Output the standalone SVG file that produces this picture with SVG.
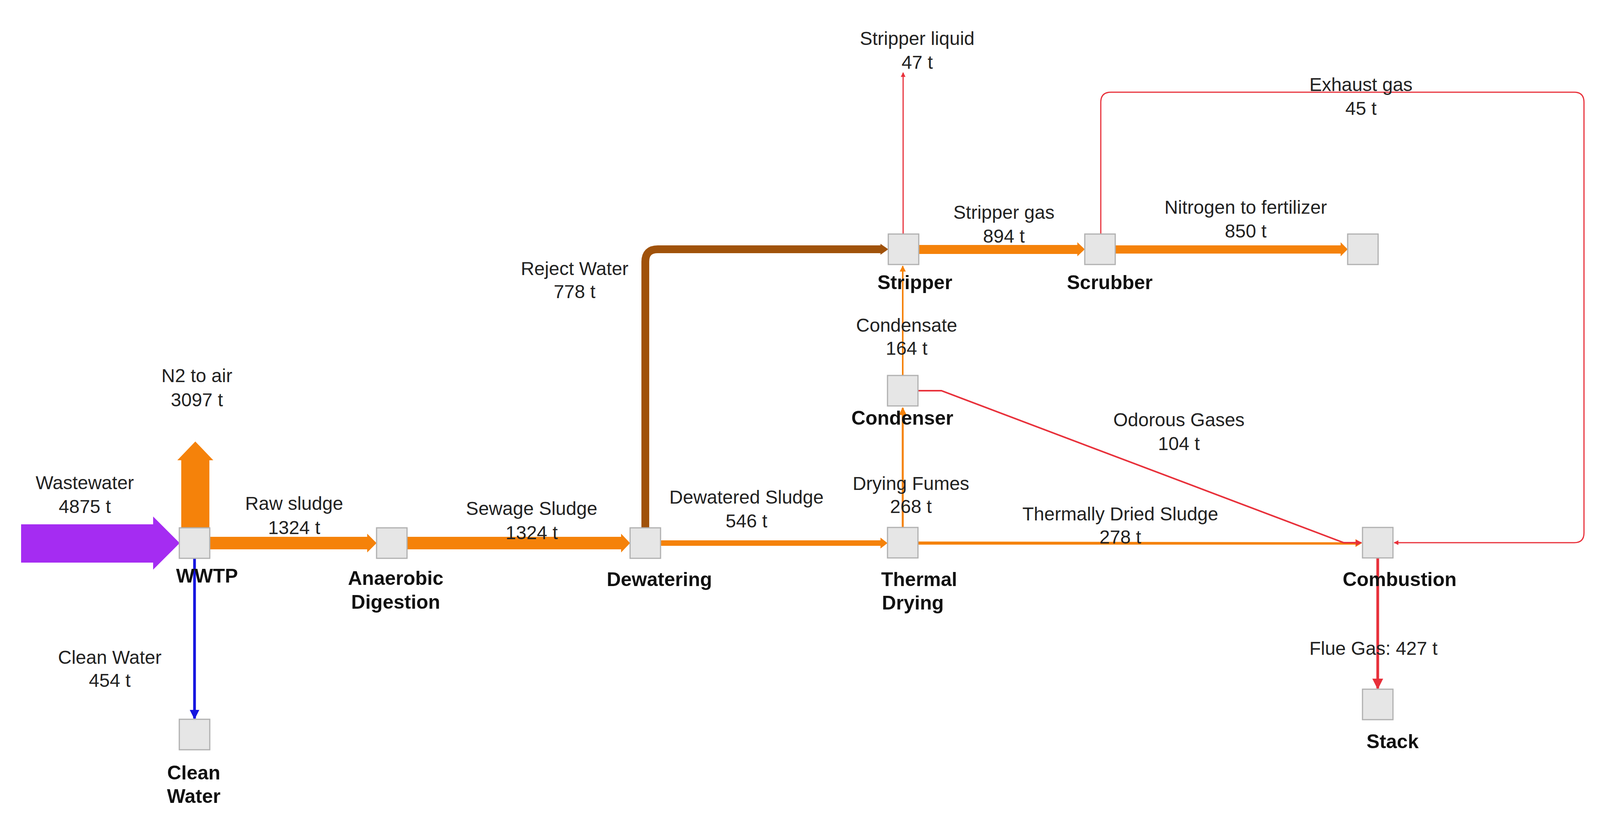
<svg xmlns="http://www.w3.org/2000/svg" width="4159" height="2086" viewBox="0 0 4159 2086">
<defs>
<style>
.n{fill:#e6e6e6;stroke:#b0b0b0;stroke-width:3}
.t{font-family:"Liberation Sans",Arial,sans-serif;font-size:48px;fill:#222;text-anchor:middle}
.b{font-weight:bold;font-size:50px;fill:#111}
.or{fill:#f5820a}
</style>
<marker id="mr" viewBox="0 0 10 10" refX="9" refY="5" markerWidth="4" markerHeight="4" orient="auto"><path d="M0,0L10,5L0,10z" fill="#e8303a"/></marker>
<marker id="mo" viewBox="0 0 10 10" refX="9" refY="5" markerWidth="4" markerHeight="4" orient="auto"><path d="M0,0L10,5L0,10z" fill="#f5820a"/></marker>
<marker id="mb" viewBox="0 0 10 10" refX="9" refY="5" markerWidth="3.5" markerHeight="3.5" orient="auto"><path d="M0,0L10,5L0,10z" fill="#1515e0"/></marker>
</defs>
<rect width="4159" height="2086" fill="#fff"/>
<g id="connectors">
<polygon points="54,1342 392,1342 392,1322 460,1390 392,1458 392,1440 54,1440" fill="#a52cf2"/>
<polygon points="464,1351 464,1178 454,1178 500,1130 546,1178 536,1178 536,1351" class="or"/>
<polygon points="537,1374 940,1374 940,1366 964,1390 940,1414 940,1406 537,1406" class="or"/>
<polygon points="1042,1374 1590,1374 1590,1366 1613,1390 1590,1414 1590,1406 1042,1406" class="or"/>
<polygon points="1690,1383 2254,1383 2254,1376 2272,1390 2254,1404 2254,1397 1690,1397" class="or"/>
<polygon points="2350,1386 3470,1388 3470,1380 3487,1390 3470,1400 3470,1394 2350,1394" class="or"/>
<path d="M1652,1351 V670 Q1652,638 1684,638 H2256" fill="none" stroke="#a0520a" stroke-width="20"/>
<polygon points="2254,624 2274,638 2254,652" fill="#a0520a"/>
<polygon points="2350,627 2758,627 2758,620 2777,638 2758,656 2758,650 2350,650" class="or"/>
<polygon points="2855,628 3432,628 3432,620 3450,638 3432,656 3432,649 2855,649" class="or"/>
<line x1="2311" y1="1349" x2="2311" y2="1044" stroke="#f5820a" stroke-width="5" marker-end="url(#mo)"/>
<line x1="2311" y1="960" x2="2311" y2="681" stroke="#f5820a" stroke-width="4" marker-end="url(#mo)"/>
<line x1="2312" y1="598" x2="2312" y2="186" stroke="#e8303a" stroke-width="3" marker-end="url(#mr)"/>
<path d="M2350,1000 H2410 L3440,1389 H3485" fill="none" stroke="#e8303a" stroke-width="4" marker-end="url(#mr)"/>
<path d="M2818,598 V262 Q2818,236 2844,236 H4030 Q4055,236 4055,262 V1364 Q4055,1389 4030,1389 H3569" fill="none" stroke="#e8303a" stroke-width="3" marker-end="url(#mr)"/>
<line x1="3527" y1="1428" x2="3527" y2="1762" stroke="#e8303a" stroke-width="7" marker-end="url(#mr)"/>
<line x1="498" y1="1429" x2="498" y2="1839" stroke="#1515e0" stroke-width="7" marker-end="url(#mb)"/>
</g>
<g id="nodes">
<g id="wwtp"><rect class="n" x="459" y="1351" width="78" height="78"/><text class="t b" x="530" y="1491">WWTP</text></g>
<g id="anaerobic"><rect class="n" x="964" y="1351" width="78" height="78"/><text class="t b" x="1013" y="1497">Anaerobic</text><text class="t b" x="1013" y="1558">Digestion</text></g>
<g id="dewatering"><rect class="n" x="1613" y="1351" width="78" height="78"/><text class="t b" x="1688" y="1500">Dewatering</text></g>
<g id="thermal"><rect class="n" x="2272" y="1350" width="78" height="78"/><text class="t b" x="2353" y="1500">Thermal</text><text class="t b" x="2337" y="1560">Drying</text></g>
<g id="combustion"><rect class="n" x="3488" y="1350" width="78" height="78"/><text class="t b" x="3583" y="1500">Combustion</text></g>
<g id="condenser"><rect class="n" x="2272" y="961" width="78" height="78"/><text class="t b" x="2310" y="1087">Condenser</text></g>
<g id="stripper"><rect class="n" x="2274" y="599" width="78" height="78"/><text class="t b" x="2342" y="740">Stripper</text></g>
<g id="scrubber"><rect class="n" x="2777" y="599" width="78" height="78"/><text class="t b" x="2841" y="740">Scrubber</text></g>
<g id="fertilizer"><rect class="n" x="3450" y="599" width="78" height="78"/></g>
<g id="cleanwater"><rect class="n" x="459" y="1841" width="78" height="78"/><text class="t b" x="496" y="1995">Clean</text><text class="t b" x="496" y="2055">Water</text></g>
<g id="stack"><rect class="n" x="3488" y="1764" width="78" height="78"/><text class="t b" x="3565" y="1915">Stack</text></g>
</g>
<g id="labels">
<text class="t" x="504" y="978">N2 to air</text><text class="t" x="504" y="1040">3097 t</text>
<text class="t" x="217" y="1252">Wastewater</text><text class="t" x="217" y="1313">4875 t</text>
<text class="t" x="753" y="1305">Raw sludge</text><text class="t" x="753" y="1367">1324 t</text>
<text class="t" x="1361" y="1318">Sewage Sludge</text><text class="t" x="1361" y="1380">1324 t</text>
<text class="t" x="1471" y="704">Reject Water</text><text class="t" x="1471" y="763">778 t</text>
<text class="t" x="1911" y="1289">Dewatered Sludge</text><text class="t" x="1911" y="1350">546 t</text>
<text class="t" x="2332" y="1254">Drying Fumes</text><text class="t" x="2332" y="1313">268 t</text>
<text class="t" x="2868" y="1332">Thermally Dried Sludge</text><text class="t" x="2868" y="1391">278 t</text>
<text class="t" x="3018" y="1091">Odorous Gases</text><text class="t" x="3018" y="1152">104 t</text>
<text class="t" x="2321" y="849">Condensate</text><text class="t" x="2321" y="908">164 t</text>
<text class="t" x="2348" y="115">Stripper liquid</text><text class="t" x="2348" y="176">47 t</text>
<text class="t" x="3484" y="233">Exhaust gas</text><text class="t" x="3484" y="294">45 t</text>
<text class="t" x="2570" y="560">Stripper gas</text><text class="t" x="2570" y="621">894 t</text>
<text class="t" x="3189" y="547">Nitrogen to fertilizer</text><text class="t" x="3189" y="608">850 t</text>
<text class="t" x="281" y="1699">Clean Water</text><text class="t" x="281" y="1758">454 t</text>
<text class="t" x="3516" y="1676">Flue Gas: 427 t</text>
</g>
</svg>
